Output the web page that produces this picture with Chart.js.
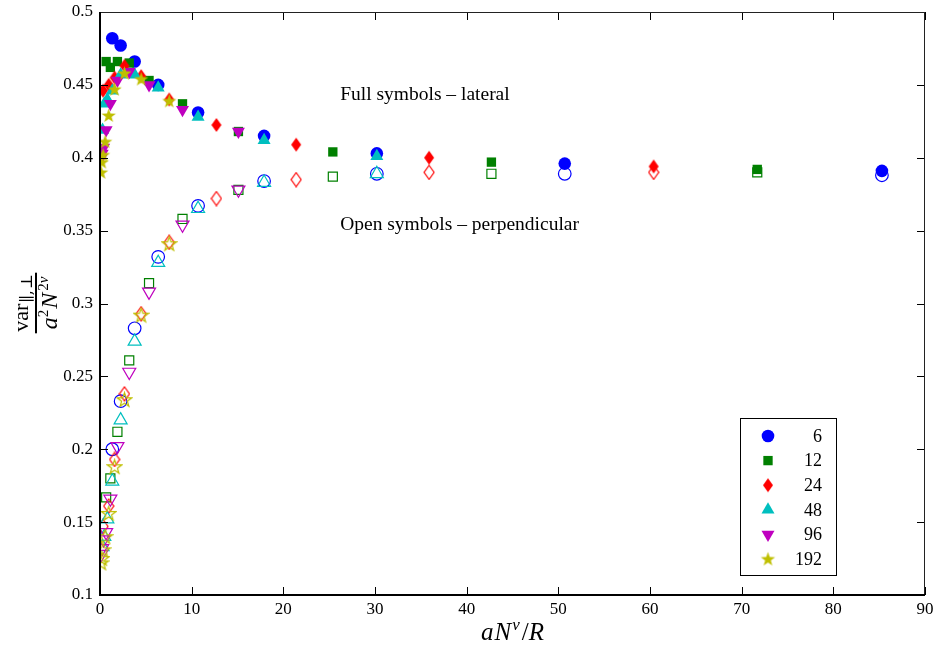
<!DOCTYPE html>
<html><head><meta charset="utf-8">
<script src="https://cdn.jsdelivr.net/npm/chart.js@4/dist/chart.umd.min.js"></script>
<style>html,body{margin:0;padding:0;background:#fff}canvas{display:block}</style>
</head><body>
<canvas id="c" width="937" height="650"></canvas>
<script>
// ---- data ----
const seriesNames = ['6', '12', '24', '48', '96', '192'];

const x6     = [1.34, 2.25, 3.78, 6.35, 10.7, 17.9, 30.2, 50.7, 85.3];
const full6  = [0.482, 0.477, 0.466, 0.450, 0.431, 0.415, 0.403, 0.396, 0.391];
const open6  = [0.200, 0.233, 0.283, 0.332, 0.367, 0.384, 0.389, 0.389, 0.388];

const x12    = [0.67, 1.13, 1.90, 3.19, 5.35, 9.0, 15.1, 25.4, 42.7, 71.7];
const full12 = [0.466, 0.462, 0.466, 0.465, 0.453, 0.437, 0.418, 0.404, 0.397, 0.392];
const open12 = [0.167, 0.180, 0.212, 0.261, 0.314, 0.358, 0.378, 0.387, 0.389, 0.390];

const x24    = [0.33, 0.95, 1.59, 2.67, 4.49, 7.55, 12.7, 21.4, 35.9, 60.4];
const full24 = [0.446, 0.450, 0.455, 0.463, 0.456, 0.440, 0.4225, 0.409, 0.400, 0.394];
const open24 = [0.147, 0.161, 0.193, 0.238, 0.293, 0.342, 0.372, 0.385, 0.390, 0.390];

const x48    = [0.28, 0.47, 0.80, 1.34, 2.25, 3.78, 6.35, 10.7, 17.9, 30.2];
const full48 = [0.419, 0.437, 0.440, 0.446, 0.457, 0.457, 0.448, 0.428, 0.412, 0.401];
const open48 = [0.133, 0.140, 0.152, 0.178, 0.220, 0.274, 0.328, 0.365, 0.383, 0.389];

const x96    = [0.14, 0.24, 0.40, 0.67, 1.13, 1.90, 3.19, 5.35, 9.0, 15.1];
const full96 = [0.400, 0.403, 0.407, 0.419, 0.437, 0.453, 0.459, 0.450, 0.433, 0.418];
const open96 = [0.128, 0.132, 0.138, 0.143, 0.166, 0.202, 0.253, 0.308, 0.354, 0.378];

const x192    = [0.12, 0.20, 0.33, 0.56, 0.95, 1.59, 2.67, 4.49, 7.55];
const full192 = [0.390, 0.397, 0.402, 0.411, 0.429, 0.447, 0.458, 0.454, 0.439];
const open192 = [0.122, 0.125, 0.131, 0.140, 0.156, 0.188, 0.234, 0.292, 0.341];

const xTicks = [0, 10, 20, 30, 40, 50, 60, 70, 80, 90];
const yTicks = [0.1, 0.15, 0.2, 0.25, 0.3, 0.35, 0.4, 0.45, 0.5];
const yTickLabels = ['0.1', '0.15', '0.2', '0.25', '0.3', '0.35', '0.4', '0.45', '0.5'];
const notes = ['Full symbols \u2013 lateral', 'Open symbols \u2013 perpendicular'];

// ---- marker images ----
const SERIF = '"Liberation Serif", "DejaVu Serif", serif';
function makeCanvas(w, h, draw) {
  const c = document.createElement('canvas'); c.width = w; c.height = h;
  draw(c.getContext('2d')); return c;
}
function diamond(color, filled) {
  return makeCanvas(12, 16, ctx => {
    ctx.beginPath(); ctx.moveTo(6, 1); ctx.lineTo(11, 8); ctx.lineTo(6, 15); ctx.lineTo(1, 8); ctx.closePath();
    if (filled) { ctx.fillStyle = color; ctx.fill(); }
    else { ctx.strokeStyle = color; ctx.lineWidth = 1.2; ctx.stroke(); }
  });
}
function star(color, filled) {
  return makeCanvas(17, 17, ctx => {
    const cx = 8.5, cy = 9, R = 7.5, r = 3.0;
    ctx.beginPath();
    for (let i = 0; i < 10; i++) {
      const rad = i % 2 ? r : R, a = -Math.PI / 2 + i * Math.PI / 5;
      const px = cx + rad * Math.cos(a), py = cy + rad * Math.sin(a);
      i ? ctx.lineTo(px, py) : ctx.moveTo(px, py);
    }
    ctx.closePath();
    if (filled) { ctx.fillStyle = color; ctx.fill(); }
    else { ctx.strokeStyle = color; ctx.lineWidth = 1.2; ctx.stroke(); }
  });
}

const colors = ['#0000ff', '#008000', '#ff0000', '#00bfbf', '#bf00bf', '#bfbf00'];
const xs = [x6, x12, x24, x48, x96, x192];
const fulls = [full6, full12, full24, full48, full96, full192];
const opens = [open6, open12, open24, open48, open96, open192];

function styleFor(i, filled) {
  const col = colors[i];
  const bg = filled ? col : 'rgba(0,0,0,0)';
  switch (i) {
    case 0: return { pointStyle: 'circle', radius: 6.3, rotation: 0, bg, border: col, bw: filled ? 0 : 1.2 };
    case 1: return { pointStyle: 'rect', radius: filled ? 6.6 : 6.4, rotation: 0, bg, border: col, bw: filled ? 0 : 1.2 };
    case 2: return { pointStyle: diamond(col, filled), radius: 7, rotation: 0, bg, border: col, bw: 0 };
    case 3: return { pointStyle: 'triangle', radius: 7.5, rotation: 0, bg, border: col, bw: filled ? 0 : 1.2 };
    case 4: return { pointStyle: 'triangle', radius: 7.5, rotation: 180, bg, border: col, bw: filled ? 0 : 1.2 };
    default: return { pointStyle: star(col, filled), radius: 8, rotation: 0, bg, border: col, bw: 0 };
  }
}

const datasets = [];
for (let i = 0; i < 6; i++) {
  for (const filled of [false, true]) {
    const s = styleFor(i, filled);
    const ys = filled ? fulls[i] : opens[i];
    datasets.push({
      label: seriesNames[i] + (filled ? '' : ' open'),
      data: xs[i].map((x, k) => ({ x, y: ys[k] })),
      pointStyle: s.pointStyle, pointRadius: s.radius, pointHoverRadius: s.radius,
      pointRotation: s.rotation, backgroundColor: s.bg, borderColor: s.border, borderWidth: s.bw,
      showLine: false, order: 20 - (i * 2 + (filled ? 1 : 0)),
      _full: filled, _idx: i
    });
  }
}

function drawShape(ctx, d, x, y) {
  ctx.save();
  ctx.fillStyle = d.backgroundColor;
  ctx.strokeStyle = d.borderColor;
  ctx.lineWidth = d.borderWidth;
  Chart.helpers.drawPoint(ctx, { pointStyle: d.pointStyle, radius: d.pointRadius, rotation: d.pointRotation, borderWidth: d.borderWidth }, x, y);
  ctx.restore();
}
function drawRuns(ctx, runs, startX, baseY) {
  let w = 0;
  runs.forEach(p => { ctx.font = p[1]; w += ctx.measureText(p[0]).width + (p[3] || 0); });
  let cx = startX === null ? -w / 2 : startX - w / 2;
  runs.forEach(p => { ctx.font = p[1]; ctx.fillText(p[0], cx, baseY + p[2]); cx += ctx.measureText(p[0]).width + (p[3] || 0); });
  return w;
}

// ---- plugins ----
const framePlugin = {
  id: 'frame',
  afterDatasetsDraw(chart) {
    const { ctx, chartArea: a, scales: { x, y } } = chart;
    ctx.save();
    ctx.strokeStyle = '#000';
    const tl = 8;
    ctx.lineWidth = 1;
    ctx.beginPath();
    xTicks.forEach(v => {
      const px = Math.round(x.getPixelForValue(v)) + 0.5;
      ctx.moveTo(px, a.bottom); ctx.lineTo(px, a.bottom - tl);
      ctx.moveTo(px, a.top); ctx.lineTo(px, a.top + tl);
    });
    yTicks.forEach(v => {
      const py = Math.round(y.getPixelForValue(v)) + 0.5;
      ctx.moveTo(a.left, py); ctx.lineTo(a.left + tl, py);
      ctx.moveTo(a.right, py); ctx.lineTo(a.right - tl, py);
    });
    ctx.stroke();
    ctx.lineWidth = 1;
    ctx.strokeStyle = '#222';
    ctx.strokeRect(a.left + 0.5, a.top + 0.5, a.right - a.left - 1, a.bottom - a.top - 1);
    ctx.lineWidth = 2;
    ctx.strokeStyle = '#000';
    ctx.beginPath();
    ctx.moveTo(a.left, a.top); ctx.lineTo(a.left, a.bottom); ctx.lineTo(a.right, a.bottom);
    ctx.stroke();
    ctx.restore();
  },
  afterDraw(chart) {
    const { ctx, chartArea: a, scales: { x, y } } = chart;
    ctx.save();
    ctx.fillStyle = '#000';
    // annotations
    ctx.font = '19.5px ' + SERIF;
    ctx.textAlign = 'left'; ctx.textBaseline = 'middle';
    ctx.fillText(notes[0], x.getPixelForValue(26.2), y.getPixelForValue(0.443));
    ctx.fillText(notes[1], x.getPixelForValue(26.2), y.getPixelForValue(0.354));

    // x axis title: aN^ν/R
    ctx.textBaseline = 'alphabetic';
    drawRuns(ctx, [
      ['a', 'italic 25px ' + SERIF, 0, 1],
      ['N', 'italic 25px ' + SERIF, 0, 1],
      ['\u03bd', 'italic 17px ' + SERIF, -10, 2],
      ['/', '25px ' + SERIF, 0, 0],
      ['R', 'italic 25px ' + SERIF, 0, 0]
    ], (a.left + a.right) / 2, 640);

    // y axis title: fraction
    ctx.save();
    ctx.translate(36, 303);
    ctx.rotate(-Math.PI / 2);
    const nw = drawRuns(ctx, [['var', '22px ' + SERIF, 0, 1], ['\u2225', '16px "DejaVu Serif", serif', 4, 0],
      [',', '16px "DejaVu Serif", serif', 4, 1], ['\u22a5', '16px "DejaVu Serif", serif', 4, 0]], null, -8);
    const dw = drawRuns(ctx, [['a', 'italic 24px ' + SERIF, 0, 0], ['2', '15px ' + SERIF, -9, 1], ['N', 'italic 24px ' + SERIF, 0, 2],
                 ['2', '15px ' + SERIF, -9, 0], ['\u03bd', 'italic 15px ' + SERIF, -9, 0]], null, 21);
    const lw = Math.max(nw, dw) + 3;
    ctx.fillRect(-lw / 2, -1, lw, 2);
    ctx.restore();

    // legend
    const L = { x: 740, y: 418, w: 96, h: 157 };
    ctx.fillStyle = '#fff';
    ctx.fillRect(L.x, L.y, L.w, L.h);
    ctx.strokeStyle = '#000'; ctx.lineWidth = 1;
    ctx.strokeRect(L.x + 0.5, L.y + 0.5, L.w, L.h);
    const fullSets = chart.data.datasets.filter(d => d._full).sort((p, q) => p._idx - q._idx);
    fullSets.forEach((d, k) => {
      const cy = L.y + 18 + k * 24.6;
      drawShape(ctx, d, 768, cy);
      ctx.fillStyle = '#000';
      ctx.font = '18px ' + SERIF;
      ctx.textAlign = 'right'; ctx.textBaseline = 'middle';
      ctx.fillText(seriesNames[d._idx], 822, cy + 1);
    });
    ctx.restore();
  }
};

new Chart(document.getElementById('c'), {
  type: 'scatter',
  data: { datasets },
  plugins: [framePlugin],
  options: {
    responsive: false, animation: false, devicePixelRatio: 1,
    layout: { padding: { top: 12, right: 12, left: 0, bottom: 0 } },
    plugins: { legend: { display: false }, tooltip: { enabled: false } },
    scales: {
      x: {
        type: 'linear', min: 0, max: 90,
        afterBuildTicks: s => { s.ticks = xTicks.map(v => ({ value: v })); },
        afterFit: s => { s.height = 55; s.paddingLeft = 0; s.paddingRight = 0; },
        grid: { display: false, drawTicks: false }, border: { display: false },
        ticks: { color: '#000', font: { family: SERIF, size: 17 }, padding: 4, maxRotation: 0, autoSkip: false }
      },
      y: {
        type: 'linear', min: 0.1, max: 0.5,
        afterBuildTicks: s => { s.ticks = yTicks.map(v => ({ value: v })); },
        afterFit: s => { s.width = 100; s.paddingTop = 0; s.paddingBottom = 0; },
        grid: { display: false, drawTicks: false }, border: { display: false },
        ticks: {
          color: '#000', font: { family: SERIF, size: 17 }, padding: 7, autoSkip: false,
          callback: v => { const i = yTicks.findIndex(t => Math.abs(t - v) < 1e-9); return i >= 0 ? yTickLabels[i] : ''; }
        }
      }
    }
  }
});
</script>
</body></html>
